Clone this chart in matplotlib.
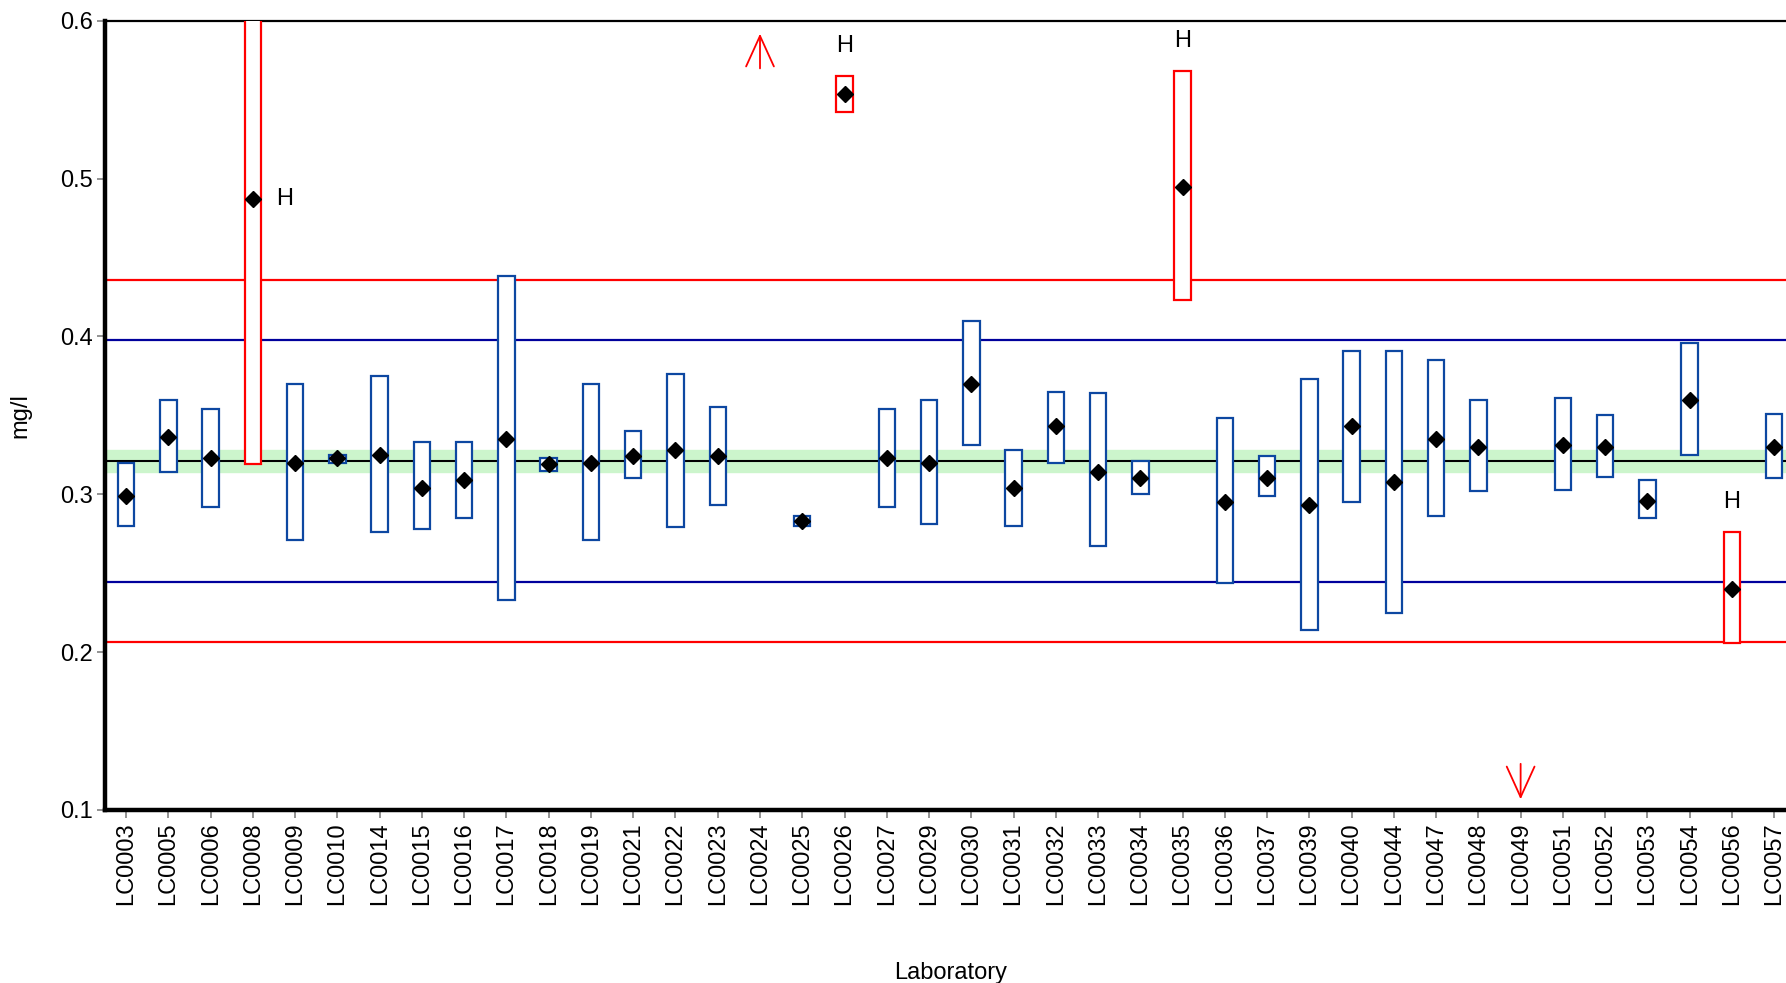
import numpy as np
import matplotlib.pyplot as plt

plt.rcParams['font.family'] = ['Liberation Sans', 'DejaVu Sans']

# Лабораторії та їх результати (mg/l)
labs = ['LC0003', 'LC0005', 'LC0006', 'LC0008', 'LC0009', 'LC0010', 'LC0014',
        'LC0015', 'LC0016', 'LC0017', 'LC0018', 'LC0019', 'LC0021', 'LC0022',
        'LC0023', 'LC0024', 'LC0025', 'LC0026', 'LC0027', 'LC0029', 'LC0030',
        'LC0031', 'LC0032', 'LC0033', 'LC0034', 'LC0035', 'LC0036', 'LC0037',
        'LC0039', 'LC0040', 'LC0044', 'LC0047', 'LC0048', 'LC0049', 'LC0051',
        'LC0052', 'LC0053', 'LC0054', 'LC0056', 'LC0057']
values = [0.299, 0.336, 0.323, 0.487, 0.320, 0.323, 0.325,
          0.304, 0.309, 0.335, 0.319, 0.320, 0.324, 0.328,
          0.324, np.nan, 0.283, 0.5535, 0.323, 0.320, 0.370,
          0.304, 0.343, 0.314, 0.310, 0.4945, 0.295, 0.310,
          0.293, 0.343, 0.308, 0.335, 0.330, np.nan, 0.331,
          0.330, 0.296, 0.360, 0.240, 0.330]
lower = [0.280, 0.314, 0.292, 0.319, 0.271, 0.320, 0.276,
         0.278, 0.285, 0.233, 0.315, 0.271, 0.310, 0.279,
         0.293, np.nan, 0.280, 0.542, 0.292, 0.281, 0.331,
         0.280, 0.320, 0.267, 0.300, 0.423, 0.244, 0.299,
         0.214, 0.295, 0.225, 0.286, 0.302, np.nan, 0.303,
         0.311, 0.285, 0.325, 0.206, 0.310]
upper = [0.320, 0.360, 0.354, 0.655, 0.370, 0.325, 0.375,
         0.333, 0.333, 0.438, 0.323, 0.370, 0.340, 0.376,
         0.355, np.nan, 0.286, 0.565, 0.354, 0.360, 0.410,
         0.328, 0.365, 0.364, 0.321, 0.568, 0.348, 0.324,
         0.373, 0.391, 0.391, 0.385, 0.360, np.nan, 0.361,
         0.350, 0.309, 0.396, 0.276, 0.351]
flags = ['', '', '', 'H', '', '', '', '', '', '', '', '', '', '',
         '', '', '', 'H', '', '', '', '', '', '', '', 'H', '', '',
         '', '', '', '', '', '', '', '', '', '', 'H', '']
# результати поза шкалою
off_high = ['LC0024']
off_low = ['LC0049']

# Приписане значення та межі
assigned = 0.321
u_assigned = 0.0068
sigma = 0.0383

x = np.arange(len(labs))
values = np.array(values)
lower = np.array(lower)
upper = np.array(upper)

fig = plt.figure(figsize=(17.86, 9.83), dpi=100)
ax = fig.add_axes([0.0588, 0.176, 0.9412, 0.803])
ax.set_xlim(-0.5, 39.28)
ax.set_ylim(0.1, 0.6)

ax.axhspan(assigned - u_assigned, assigned + u_assigned, color='#ccf5cc', zorder=1)
ax.axhline(assigned, color='black', lw=1.5, zorder=2)
ax.axhline(assigned + 2 * sigma, color='#00009c', lw=1.6, zorder=2)
ax.axhline(assigned - 2 * sigma, color='#00009c', lw=1.6, zorder=2)
ax.axhline(assigned + 3 * sigma, color='#ff0000', lw=1.6, zorder=2)
ax.axhline(assigned - 3 * sigma, color='#ff0000', lw=1.6, zorder=2)

colors = ['#ff0000' if f == 'H' else '#0d47a1' for f in flags]
ax.bar(x, upper - lower, bottom=lower, width=0.39, facecolor='white',
       edgecolor=colors, linewidth=1.6, zorder=3)
ax.plot(x, values, 'D', color='black', markersize=8.5, zorder=4)

y0, y1 = ax.get_ylim()
for i, f in enumerate(flags):
    if f:
        if upper[i] > y1:
            ax.text(x[i] + 0.75, values[i], f, fontsize=17, ha='center', va='center')
        else:
            ax.text(x[i], upper[i] + 0.019, f, fontsize=17, ha='center', va='center')

arrow = dict(arrowstyle='->,head_length=2.2,head_width=1.0', color='red', lw=1.3)
for lab in off_high:
    i = labs.index(lab)
    ax.annotate('', xy=(x[i], y1 - 0.0065), xytext=(x[i], y1 - 0.032), arrowprops=arrow)
for lab in off_low:
    i = labs.index(lab)
    ax.annotate('', xy=(x[i], y0 + 0.005), xytext=(x[i], y0 + 0.031), arrowprops=arrow)

ax.set_xticks(x)
ax.set_xticklabels(labs, rotation=90, fontsize=17)
ax.set_yticks([0.1, 0.2, 0.3, 0.4, 0.5, 0.6])
ax.set_yticklabels(['0.1', '0.2', '0.3', '0.4', '0.5', '0.6'], fontsize=17)
ax.tick_params(axis='both', color='#808080', length=6, width=1.2, pad=3)

ax.spines['right'].set_visible(False)
ax.spines['left'].set_linewidth(3.2)
ax.spines['bottom'].set_linewidth(3.2)
ax.spines['top'].set_linewidth(1.6)

ax.set_xlabel('Laboratory', fontsize=17, va='center')
ax.xaxis.set_label_coords(0.503, -0.206)
ax.set_ylabel('mg/l', fontsize=17, va='center')
ax.yaxis.set_label_coords(-0.0506, 0.5)

plt.savefig('out.png', dpi=100)
